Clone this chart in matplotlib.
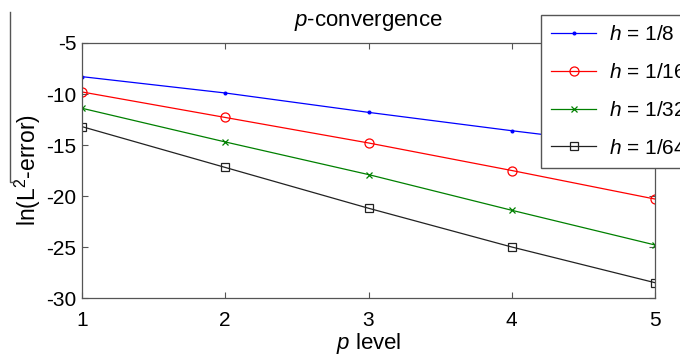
import matplotlib
matplotlib.use("Agg")
import matplotlib.pyplot as plt
from matplotlib.lines import Line2D

plt.rcParams['font.family'] = ['Liberation Sans', 'DejaVu Sans']
plt.rcParams['mathtext.fontset'] = 'custom'
plt.rcParams['mathtext.rm'] = 'Liberation Sans'
plt.rcParams['mathtext.it'] = 'Liberation Sans:italic'
plt.rcParams['axes.unicode_minus'] = False

p_levels = [1, 2, 3, 4, 5]
err_h8 = [-8.3, -9.9, -11.8, -13.6, -15.3]
err_h16 = [-9.8, -12.3, -14.8, -17.5, -20.3]
err_h32 = [-11.4, -14.7, -17.9, -21.4, -24.8]
err_h64 = [-13.2, -17.2, -21.2, -25.0, -28.5]
labels = [r'$h$ = 1/8', r'$h$ = 1/16', r'$h$ = 1/32', r'$h$ = 1/64']
xticks = [1, 2, 3, 4, 5]
yticks = [-30, -25, -20, -15, -10, -5]

fig = plt.figure(figsize=(6.8, 3.58), dpi=100)
ax = fig.add_axes([82/680, 1-298/358, (655-82)/680, (298-43)/358])

series = [err_h8, err_h16, err_h32, err_h64]
colors = ['#0000ff', '#ff0000', '#008000', '#222222']
markers = ['.', 'o', 'x', 's']
msizes = [4, 6.5, 5, 5.5]
for vals, c, m, ms, lab in zip(series, colors, markers, msizes, labels):
    ax.plot(p_levels, vals, color=c, marker=m, markersize=ms, lw=0.9,
            markerfacecolor='none' if m in ('o', 's') else c,
            markeredgewidth=0.9, label=lab)

ax.set_xlim(1, 5)
ax.set_ylim(-30, -5)
ax.set_xticks(xticks)
ax.set_yticks(yticks)
ax.tick_params(direction='in', length=4, width=0.8, color='#555555',
               labelsize=15, top=True, right=True)
ax.tick_params(axis='x', pad=9)
ax.tick_params(axis='y', pad=4)
for s in ax.spines.values():
    s.set_color('#555555')
    s.set_linewidth(0.9)

ax.set_title(r'$p$-convergence', fontsize=16, pad=12)
ax.set_xlabel(r'$p$ level', fontsize=16, labelpad=1)
ax.set_ylabel(r'ln(L$^2$-error)', fontsize=16.5, labelpad=2)

leg = ax.legend(loc='upper left', bbox_to_anchor=(541/680, 1-15/358),
                bbox_transform=fig.transFigure, borderaxespad=0,
                fontsize=15, fancybox=False, framealpha=1, edgecolor='#555555',
                handlelength=2.15, handletextpad=0.6, borderpad=0.5,
                labelspacing=0.9)
leg.get_frame().set_linewidth(1.0)

fig.add_artist(Line2D([9.5/680, 9.5/680, 14/680], [1-12/358, 1-182/358, 1-182/358],
                      transform=fig.transFigure, color='#555555', lw=1))

fig.savefig('out.png', dpi=100)
